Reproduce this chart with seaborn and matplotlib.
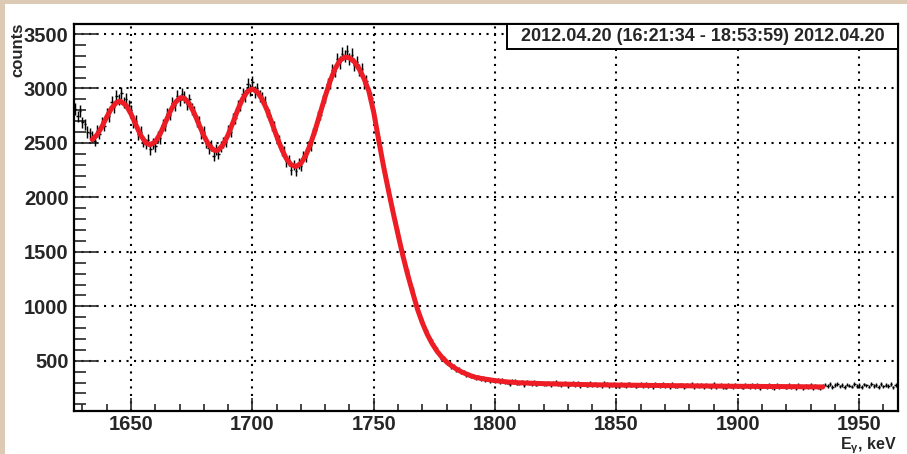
import numpy as np
import matplotlib
matplotlib.use("Agg")
import matplotlib.pyplot as plt
from matplotlib.patches import Rectangle
import seaborn as sns

# ---------------- data ----------------
bin_low_edge = 1626.5
bin_width = 1.0

counts_pre = [2810, 2745, 2795, 2690, 2670, 2600, 2590]
counts_peaks = [
    2555, 2520, 2610, 2585, 2690, 2660, 2770, 2745, 2880, 2830,
    2935, 2900, 2960, 2870, 2905, 2840, 2800, 2690, 2700, 2580,
    2600, 2510, 2490, 2530, 2440, 2495, 2470, 2560, 2545, 2665,
    2660, 2770, 2760, 2870, 2850, 2935, 2890, 2950, 2920, 2860,
    2900, 2810, 2790, 2700, 2695, 2590, 2600, 2500, 2450, 2480,
    2380, 2440, 2400, 2470, 2500, 2510, 2610, 2605, 2720, 2730,
    2840, 2850, 2950, 2930, 3040, 2990, 3060, 2970, 3000, 2930,
    2910, 2880, 2790, 2760, 2660, 2650, 2540, 2520, 2430, 2420,
    2330, 2340, 2250, 2300, 2240, 2310, 2290, 2380, 2370, 2470,
    2480, 2590, 2620, 2740, 2760, 2890, 2920, 3040, 3050, 3170,
    3160, 3270, 3240, 3320, 3300, 3340, 3270, 3310, 3220, 3240,
]
counts_edge = [
    3170, 3180, 3050, 3070, 2960, 2910, 2760, 2670, 2510, 2420,
    2280, 2165, 2080, 1950, 1875, 1745, 1670, 1550, 1475, 1365,
    1305, 1195, 1145, 1040, 985, 900, 860, 790, 760, 695,
    672, 640, 600, 565, 520, 525, 480, 478, 450, 448,
    418, 420, 396, 398, 372, 378, 358, 360, 342, 350,
    335, 340, 326, 335, 318, 326, 312,
]
counts_tail = [
    324, 301, 326, 303, 309, 290, 313, 319, 291, 295, 309, 280, 302, 296, 286, 307, 281, 296, 300, 284,
    286, 300, 276, 295, 304, 285, 277, 291, 299, 270, 287, 293, 277, 300, 271, 285, 288, 272, 295, 279,
    290, 272, 283, 266, 294, 285, 267, 280, 289, 271, 263, 286, 279, 266, 292, 272, 283, 263, 280, 286,
    268, 288, 271, 280, 259, 284, 274, 264, 287, 268, 280, 260, 289, 270, 263, 282, 275, 258, 277, 272,
    285, 260, 276, 266, 281, 255, 277, 269, 261, 284, 257, 273, 276, 261, 254, 277, 269, 258, 280, 262,
    273, 254, 278, 267, 256, 276, 260, 279, 250, 268, 272, 257, 276, 260, 252, 279, 257, 272, 264, 253,
    275, 257, 270, 249, 276, 265, 252, 271, 257, 277, 249, 266, 261, 252, 273,
]
counts_end = [
    282, 266, 286, 261, 275, 289, 264, 277, 259, 281, 273, 262, 287, 268, 279,
    258, 283, 274, 263, 285, 269, 280, 260, 288, 265, 276, 271, 284, 257, 278,
]

fit_energy = [1634, 1636, 1638, 1640, 1642, 1644, 1645.5, 1648, 1650, 1652, 1654, 1656, 1657.8,
              1660, 1662, 1664, 1666, 1668, 1670, 1671, 1672, 1674, 1676, 1678, 1680, 1682, 1684,
              1685, 1686, 1688, 1690, 1692, 1694, 1696, 1698, 1700, 1702, 1704, 1706, 1708, 1710,
              1712, 1714, 1716, 1718, 1720, 1722, 1724, 1726, 1728, 1730, 1732, 1734, 1736, 1738,
              1740, 1742, 1744, 1746, 1748, 1750, 1752, 1754, 1756, 1758, 1760, 1762, 1764, 1766,
              1768, 1770, 1772, 1774, 1776, 1778, 1780, 1782, 1784, 1786, 1788, 1790, 1792, 1795,
              1800, 1805, 1810, 1820, 1830, 1840, 1860, 1880, 1900, 1920, 1935]
fit_counts = [2531, 2574, 2649, 2739, 2820, 2872, 2885, 2845, 2766, 2666, 2570, 2503, 2482,
              2511, 2583, 2681, 2783, 2865, 2911, 2916, 2909, 2860, 2775, 2670, 2566, 2482, 2436,
              2430, 2436, 2485, 2575, 2688, 2806, 2907, 2974, 2995, 2969, 2902, 2804, 2686, 2562,
              2447, 2355, 2299, 2284, 2313, 2385, 2494, 2629, 2778, 2928, 3066, 3178, 3255, 3288,
              3282, 3245, 3180, 3090, 2975, 2780, 2530, 2290, 2070, 1860, 1660, 1465, 1290, 1130,
              975, 850, 745, 660, 590, 535, 490, 455, 425, 400, 380, 362, 348, 335,
              318, 306, 298, 290, 285, 280, 275, 270, 266, 263, 260]

title_text = "2012.04.20 (16:21:34 - 18:53:59) 2012.04.20"
x_ticks = [1650, 1700, 1750, 1800, 1850, 1900, 1950]
y_ticks = [500, 1000, 1500, 2000, 2500, 3000, 3500]

# ---------------- style ----------------
sns.set_style("white")
plt.rcParams['font.family'] = ['Liberation Sans', 'DejaVu Sans']
plt.rcParams['font.weight'] = 'bold'
plt.rcParams['mathtext.default'] = 'regular'

W, H = 907, 454
fig = plt.figure(figsize=(W / 100, H / 100), dpi=100)
fig.patch.set_facecolor('white')
beige = '#dccab4'
fig.patches.append(Rectangle((0, 1 - 4 / H), 1, 4 / H, transform=fig.transFigure,
                             facecolor=beige, edgecolor='none', zorder=0))
fig.patches.append(Rectangle((0, 0), 5 / W, 1, transform=fig.transFigure,
                             facecolor=beige, edgecolor='none', zorder=0))

ax_l, ax_r, ax_t, ax_b = 74, 898, 24, 411
ax = fig.add_axes([ax_l / W, 1 - ax_b / H, (ax_r - ax_l) / W, (ax_b - ax_t) / H])
ax.set_facecolor('white')

counts = np.array(counts_pre + counts_peaks + counts_edge + counts_tail + counts_end, dtype=float)
energy = bin_low_edge + bin_width * (np.arange(len(counts)) + 0.5)
errs = np.sqrt(counts)

ax.errorbar(energy, counts, yerr=errs, xerr=bin_width / 2, fmt='none',
            ecolor='black', elinewidth=1.05, capsize=0, zorder=3)

sns.lineplot(x=fit_energy, y=fit_counts, color='#ee1c24', linewidth=3.6, ax=ax,
             zorder=4, sort=False)

ax.set_xlim(1626.5, 1966)
ax.set_ylim(39, 3592)
ax.set_xticks(x_ticks)
ax.set_yticks(y_ticks)
ax.set_xticks(np.arange(1630, 1966, 10), minor=True)
ax.set_yticks(np.arange(100, 3592, 100), minor=True)
ax.set_xticklabels([str(v) for v in x_ticks], fontsize=14.5, fontweight='bold')
ax.set_yticklabels([str(v) for v in y_ticks], fontsize=14.5, fontweight='bold')

ax.tick_params(axis='y', which='major', direction='in', length=17, width=1.2, pad=4,
               left=True, right=False)
ax.tick_params(axis='y', which='minor', direction='in', length=8.6, width=1.2,
               left=True, right=False)
ax.tick_params(axis='x', which='major', direction='in', length=9.4, width=1.2, pad=3,
               bottom=True, top=False)
ax.tick_params(axis='x', which='minor', direction='in', length=5, width=1.2,
               bottom=True, top=False)

ax.grid(True, which='major', color='black', linestyle=(0, (1, 2.6)), linewidth=1.5)
ax.set_axisbelow(True)
for s in ax.spines.values():
    s.set_visible(True)
    s.set_color('black')
    s.set_linewidth(1.6)

ax.set_xlabel('')
ax.set_ylabel('')

fig.text(17.5 / W, 1 - 23 / H, 'counts', rotation=90, ha='center', va='top',
         fontsize=12, fontweight='bold')
fig.text(897 / W, 1 - 435 / H, r'E$_{\gamma}$, keV', ha='right', va='top',
         fontsize=11.5, fontweight='bold')

# title box
bx0, bx1, by0, by1 = 507, 898, 24, 49
fig.patches.append(Rectangle((bx0 / W, 1 - by1 / H), (bx1 - bx0) / W, (by1 - by0) / H,
                             transform=fig.transFigure, facecolor='white',
                             edgecolor='black', linewidth=1.4, zorder=5))
fig.text((bx0 + bx1) / 2 / W, 1 - (by0 + by1) / 2 / H, title_text, ha='center',
         va='center', fontsize=13, fontweight='bold', zorder=6)

fig.savefig('out.png', dpi=100, facecolor=fig.get_facecolor())
